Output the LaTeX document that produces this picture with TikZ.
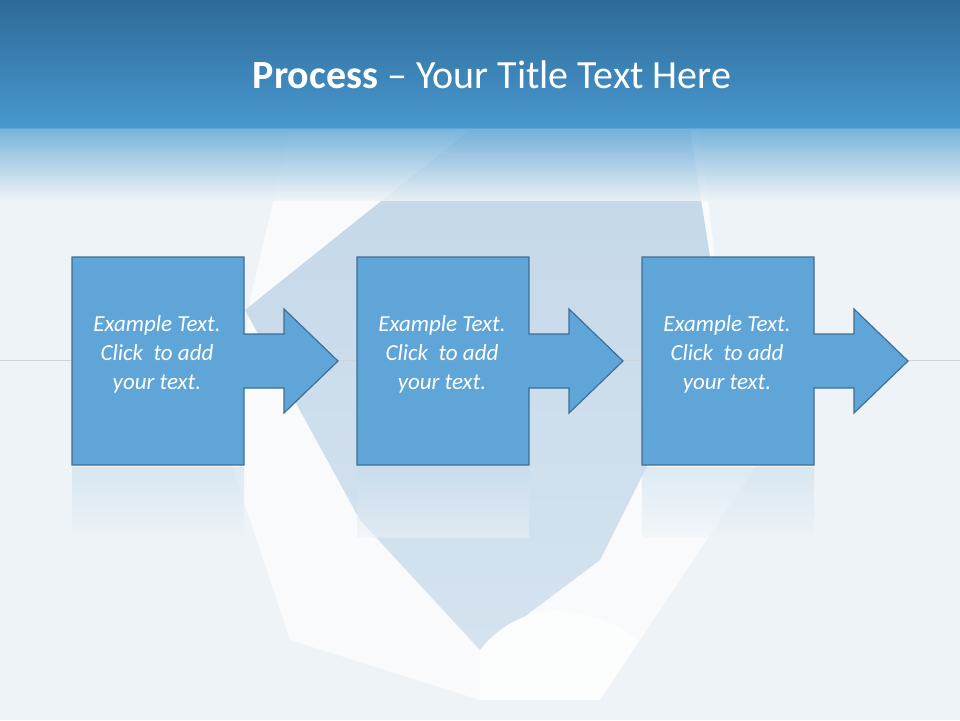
\documentclass[tikz,border=0pt]{standalone}
\usepackage{fontspec}
\setmainfont{Carlito}
\begin{document}
\begin{tikzpicture}[x=1pt,y=-1pt,
  stepshape/.style={fill=boxblue,draw=boxedge,line width=1.2pt,line join=miter},
  steptext/.style={text=white,font=\itshape\fontsize{23}{29}\selectfont,align=center}]
\definecolor{boxblue}{HTML}{5FA5D7}
\definecolor{boxedge}{HTML}{3E6F98}
\definecolor{bgc}{HTML}{EEF3F7}
\definecolor{bartop}{HTML}{2E6A98}
\definecolor{barbot}{HTML}{4898CF}
\definecolor{diam}{HTML}{C3D7E8}
\useasboundingbox (0,0) rectangle (960,720);
\fill[bgc] (0,0) rectangle (960,720);
% paper opening
\fill[white!60!bgc] (290,130) -- (250,300) -- (230,460) -- (290,640) -- (480,700) -- (640,640) -- (760,460) -- (720,300) -- (700,130) -- cycle;
\shade[top color=diam,bottom color=diam!70!white] (470,130) -- (245,310) -- (360,520) -- (480,650) -- (600,560) -- (720,320) -- (690,130) -- cycle;
\fill[white!80!bgc] (480,650) .. controls (520,600) and (580,600) .. (640,640) -- (600,700) -- (480,700) -- cycle;
\draw[gray!35,line width=0.6pt] (0,360) -- (960,360);
% title bar
\shade[top color=bartop,bottom color=barbot] (0,0) rectangle (960,128);
\shade[top color=barbot!85!white,bottom color=bgc,opacity=0.85] (0,128) rectangle (960,200);
\node[text=white,font=\fontsize{40}{46}\selectfont] (title) at (492,75) {\textbf{Process} -- Your Title Text Here};
% steps
\foreach \i/\x in {1/72,2/357,3/642}{
  \shade[top color=boxblue!30!bgc,bottom color=bgc,opacity=0.5] (\x,467) rectangle ++(172,70);
  \draw[stepshape] (\x,257) -- ++(172,0) -- ++(0,77) -- ++(40,0) -- ++(0,-25) -- ++(54,52) -- ++(-54,52) -- ++(0,-25) -- ++(-40,0) -- ++(0,77) -- ++(-172,0) -- cycle;
  \node[steptext] (t\i) at (\x+85,354) {Example Text.\\Click \ to add\\your text.};
}
\end{tikzpicture}
\end{document}
